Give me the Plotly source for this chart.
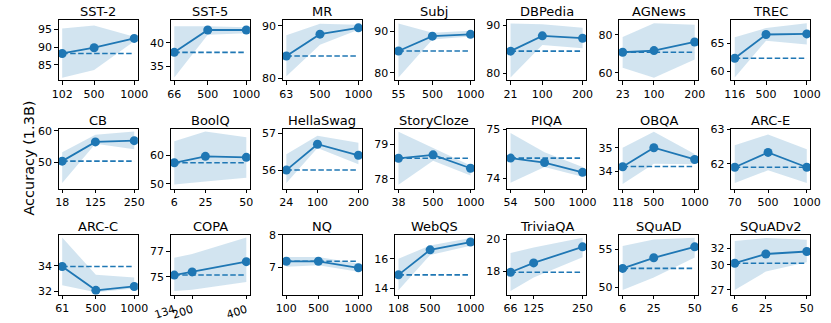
import plotly.graph_objects as go
from plotly.subplots import make_subplots

names = ["SST-2", "SST-5", "MR", "Subj", "DBPedia", "AGNews", "TREC",
         "CB", "BoolQ", "HellaSwag", "StoryCloze", "PIQA", "OBQA", "ARC-E",
         "ARC-C", "COPA", "NQ", "WebQS", "TriviaQA", "SQuAD", "SQuADv2"]

xs = [[102, 500, 1000], [66, 500, 1000], [63, 500, 1000], [55, 500, 1000], [21, 100, 200], [23, 100, 200], [116, 500, 1000],
      [18, 125, 250], [6, 25, 50], [24, 100, 200], [38, 500, 1000], [54, 500, 1000], [118, 500, 1000], [70, 500, 1000],
      [61, 500, 1000], [134, 200, 400], [100, 500, 1000], [108, 500, 1000], [66, 125, 250], [6, 25, 50], [6, 25, 50]]

ys = [[88.2, 89.8, 92.4], [38.0, 42.7, 42.7], [84.25, 88.4, 89.6], [85.3, 88.9, 89.35], [84.6, 87.8, 87.3], [70.8, 71.65, 76.2], [62.35, 66.6, 66.7],
      [50.4, 56.5, 56.9], [57.3, 59.55, 59.2], [56.0, 56.7, 56.4], [78.6, 78.7, 78.31], [74.41, 74.32, 74.12], [34.19, 35.0, 34.5], [61.9, 62.33, 61.9],
      [33.95, 32.1, 32.4], [75.15, 75.4, 76.2], [7.19, 7.19, 6.99], [14.91, 16.6, 17.13], [17.96, 18.54, 19.54], [52.46, 53.86, 55.3], [30.2, 31.3, 31.6]]

lows = [[81.4, 83.6, 91.6], [32.7, 41.7, 42.0], [80.4, 86.4, 89.25], [78.9, 88.1, 88.8], [79.1, 85.9, 85.2], [62.6, 57.4, 67.0], [58.9, 65.5, 64.8],
        [43.5, 55.9, 54.2], [49.7, 50.8, 52.1], [55.65, 56.6, 56.16], [77.83, 78.53, 78.1], [73.91, 74.23, 74.03], [33.45, 34.32, 34.29], [61.44, 61.81, 61.44],
        [32.5, 31.95, 32.25], [73.9, 74.0, 74.6], [7.02, 7.07, 6.87], [13.87, 16.26, 16.87], [16.8, 17.64, 18.9], [49.6, 51.27, 53.9], [27.0, 29.2, 30.3]]

highs = [[95.2, 96.0, 92.9], [43.5, 43.5, 43.3], [88.2, 90.4, 90.2], [92.0, 89.75, 90.2], [90.35, 90.2, 89.5], [78.8, 86.1, 85.2], [66.1, 67.75, 68.6],
         [53.2, 58.8, 59.8], [64.8, 68.2, 66.2], [56.43, 56.93, 56.74], [79.37, 78.9, 78.39], [74.92, 74.53, 74.23], [35.0, 35.68, 34.73], [62.54, 62.85, 62.42],
         [36.2, 33.3, 33.1], [76.5, 76.8, 78.1], [7.32, 7.32, 7.12], [16.0, 16.9, 17.4], [19.16, 19.5, 20.1], [55.4, 56.27, 56.5], [32.85, 33.2, 33.0]]

baselines = [88.2, 38.0, 84.25, 85.3, 84.6, 70.8, 62.35,
             50.4, 57.3, 56.0, 78.6, 74.41, 34.2, 61.9,
             33.95, 75.15, 7.19, 14.91, 17.96, 52.46, 30.2]

y_ranges = [[80.7, 97.4], [32.1, 44.7], [79.6, 91.0], [78.2, 92.7], [78.5, 91.0], [56.0, 87.5], [58.4, 69.1],
            [41.7, 60.7], [48.3, 69.2], [55.5, 57.12], [77.72, 79.46], [73.79, 75.01], [33.26, 35.81], [61.28, 63.02],
            [31.75, 36.4], [73.6, 78.3], [6.16, 8.0], [13.56, 17.61], [16.56, 20.28], [48.98, 56.87], [26.42, 33.58]]

y_ticks = [[85, 90, 95], [35, 40], [80, 90], [80, 90], [80, 90], [60, 80], [60, 65],
           [50, 60], [50, 60], [56, 57], [78, 79], [74, 75], [34, 35], [62, 63],
           [32, 34], [75, 77], [7, 8], [14, 16], [18, 20], [50, 55], [27, 30, 32]]

blue = "#1f77b4"
W, H = 831, 323
row_tops = [15, 127, 237]
box_w, box_h = 82, 62

fig = make_subplots(rows=3, cols=7)
font = dict(family="DejaVu Sans", color="black")

for i, name in enumerate(names):
    r, c = i // 7 + 1, i % 7 + 1
    x = xs[i]
    fig.add_trace(go.Scatter(x=x + x[::-1], y=highs[i] + lows[i][::-1], fill="toself",
                             fillcolor="rgba(31,119,180,0.2)", line=dict(width=0),
                             mode="lines", hoverinfo="skip", showlegend=False), row=r, col=c)
    fig.add_trace(go.Scatter(x=[x[0], x[-1]], y=[baselines[i], baselines[i]], mode="lines",
                             line=dict(color=blue, width=1.6, dash="5.5px,2.5px"),
                             showlegend=False), row=r, col=c)
    fig.add_trace(go.Scatter(x=x, y=ys[i], mode="lines+markers",
                             line=dict(color=blue, width=1.8),
                             marker=dict(size=9, color=blue), showlegend=False), row=r, col=c)

    span = x[-1] - x[0]
    left = 42 + 116 * (c - 1)
    top = row_tops[r - 1]
    xdom = [left / W, (left + box_w) / W]
    ydom = [1 - (top + box_h) / H, 1 - top / H]
    axis_style = dict(showline=True, mirror=True, linecolor="black", linewidth=0.9,
                      ticks="outside", ticklen=3.5, tickwidth=0.9, tickcolor="black",
                      showgrid=False, zeroline=False, tickfont=dict(size=11, **font))
    fig.update_xaxes(domain=xdom, range=[x[0] - 0.05 * span, x[-1] + 0.05 * span],
                     tickvals=x, ticktext=[str(v) for v in x],
                     tickangle=-18 if name == "COPA" else 0, row=r, col=c, **axis_style)
    fig.update_yaxes(domain=ydom, range=y_ranges[i], tickvals=y_ticks[i],
                     ticktext=[str(v) for v in y_ticks[i]], row=r, col=c, **axis_style)
    fig.add_annotation(text=name, x=(xdom[0] + xdom[1]) / 2, y=ydom[1], xref="paper", yref="paper",
                       xanchor="center", yanchor="bottom", yshift=-1, showarrow=False,
                       font=dict(size=13, **font))

fig.add_annotation(text="Accuracy (1.3B)", x=1 / W, y=1 - 157 / H, xref="paper", yref="paper",
                   textangle=-90, showarrow=False, xanchor="left", yanchor="middle",
                   font=dict(size=14.5, **font))

fig.update_layout(width=W, height=H, margin=dict(l=0, r=0, t=0, b=0),
                  plot_bgcolor="white", paper_bgcolor="white", font=font)

# drop the page's default body margin so the figure starts at the window corner
fig.write_html("out.html", config={"displayModeBar": False},
               post_script="document.body.style.margin='0';")
